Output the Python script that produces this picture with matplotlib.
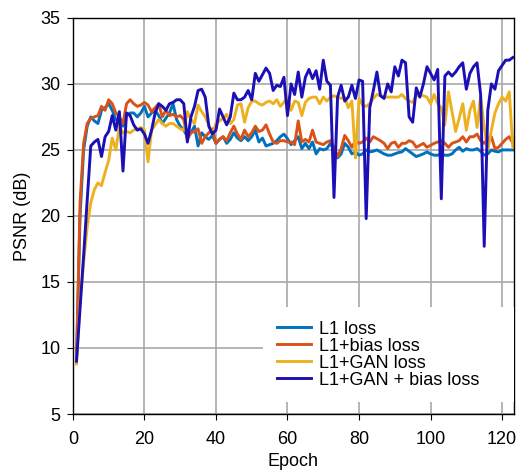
import numpy as np
import matplotlib
matplotlib.use("Agg")
from matplotlib import pyplot as plt

plt.rcParams["font.family"] = ["Liberation Sans", "DejaVu Sans"]

epochs = np.arange(1, 124)

l1 = [9.0, 20.0, 25.0, 26.8, 27.5, 27.2, 27.0, 28.0, 28.2, 28.5,
      28.0, 27.3, 27.0, 26.8, 27.6, 27.8, 27.8, 27.5, 27.8, 28.3,
      27.5, 27.8, 28.0, 27.6, 27.0, 27.4, 27.8, 28.5, 27.3, 26.8,
      26.5, 26.0, 26.3, 26.8, 25.3, 26.3, 26.0, 25.8, 26.1, 25.5,
      25.8, 26.0, 25.5, 25.8, 26.3, 25.9, 25.7, 26.0, 25.7, 26.0,
      26.5, 25.6, 25.9, 25.3, 25.4, 25.5, 25.7, 26.0, 26.2, 25.85,
      25.4, 25.7, 26.0, 25.1, 25.5, 25.1, 25.6, 24.7, 25.1, 25.0,
      25.1, 25.5, 25.0, 24.4, 24.7, 25.5, 25.2, 24.7, 24.85, 24.6,
      24.7, 25.0, 24.85, 24.9, 25.0, 24.85, 24.7, 24.6, 24.6, 24.7,
      24.8, 24.85, 25.1, 24.9, 24.7, 24.5, 24.6, 24.7, 24.85, 24.7,
      24.6, 24.6, 24.7, 24.6, 24.6, 24.7, 25.0, 25.2, 24.9, 25.1,
      25.0, 25.0, 25.1, 24.9, 24.6, 24.7, 25.0, 24.9, 24.85, 25.0,
      25.0, 25.0, 25.0]

l1_bias = [9.0, 21.0, 25.5, 27.0, 27.4, 27.5, 27.6, 28.3, 28.0, 28.8,
           28.5, 27.8, 27.5, 27.0, 28.5, 28.8, 28.5, 28.3, 28.4, 28.6,
           28.4, 27.9, 28.2, 28.5, 27.5, 28.0, 27.6, 27.7, 27.5, 27.6,
           27.3, 25.8, 26.3, 26.4, 26.6, 25.5, 26.0, 26.3, 26.6, 25.5,
           25.8, 26.0, 25.7, 26.3, 26.8, 26.2, 25.8, 26.5, 26.0, 26.3,
           26.8, 26.4, 26.5, 26.9, 26.2, 25.6, 25.5, 25.7, 25.7, 25.6,
           25.6, 25.4, 27.2, 25.6, 25.8, 25.6, 26.5, 25.6, 25.5, 25.4,
           25.6, 25.7, 25.2, 24.5, 25.1, 26.1, 25.7, 25.2, 25.7, 25.5,
           25.6, 25.9, 25.6, 26.0, 25.85, 25.7, 25.5, 25.1, 25.5, 25.6,
           25.2, 25.5, 25.5, 25.7, 25.6, 25.2, 25.35, 25.5, 25.2, 25.35,
           25.5, 25.6, 25.7, 25.5, 25.2, 25.5, 25.6, 25.7, 26.0, 25.6,
           26.0, 26.0, 26.2, 25.7, 25.5, 25.85, 26.0, 25.1, 25.2, 25.5,
           25.8, 26.0, 25.5]

l1_gan = [8.8, 13.5, 16.5, 19.2, 21.0, 22.0, 22.5, 22.3, 23.3, 24.2,
          25.9, 25.0, 26.8, 26.3, 26.4, 26.3, 26.5, 26.6, 26.7, 26.5,
          24.1, 26.5, 26.9, 27.3, 27.0, 26.8, 27.0, 27.0, 26.8, 26.6,
          26.5, 27.9, 27.3, 27.0, 28.4, 27.9, 27.5, 26.9, 26.2, 27.0,
          27.2, 27.4, 27.7, 27.0, 27.3, 28.4, 28.5, 27.1, 28.2, 28.7,
          28.7, 28.5, 28.4, 28.6, 28.7, 28.5, 28.8, 28.3, 28.6, 29.0,
          28.0, 28.7, 28.6, 27.6, 28.6, 28.9, 29.0, 29.0, 28.5, 29.0,
          28.7, 29.0, 29.1, 29.0, 28.9, 29.0, 28.2, 28.7, 24.4, 28.9,
          28.4, 28.3, 28.5, 28.9, 29.2, 29.1, 29.0, 29.0, 29.0, 29.0,
          29.0, 29.2, 28.9, 28.7, 28.6, 29.1, 29.2, 29.1, 29.0, 28.5,
          29.2, 28.5, 28.2, 26.9, 29.4, 27.9, 26.4, 27.4, 28.5, 26.5,
          28.0, 28.7, 26.7, 29.0, 26.7, 25.0, 26.5, 27.8, 28.5, 29.0,
          28.7, 29.4, 25.2]

l1_gan_bias = [9.0, 13.0, 17.0, 21.2, 25.3, 25.6, 25.8, 24.5, 26.0, 26.4,
               27.6, 26.5, 27.9, 23.4, 27.8, 27.6, 26.9, 26.5, 26.6, 26.2,
               25.5, 26.5, 27.8, 28.5, 28.3, 28.0, 28.5, 28.6, 28.8, 28.8,
               28.5, 25.6, 27.5, 28.3, 29.5, 29.6, 29.0, 26.8, 26.2, 26.5,
               28.1, 27.5, 26.9, 27.5, 29.3, 28.8, 28.8, 29.0, 29.5, 28.8,
               30.8, 30.2, 30.7, 31.2, 30.8, 29.5, 29.9, 29.8, 30.5, 27.6,
               30.0, 29.2, 30.9, 29.0, 30.5, 31.1, 30.4, 31.0, 29.6, 31.8,
               30.2, 29.9, 21.4, 29.0, 29.9, 28.7, 29.0, 29.9, 28.9, 30.3,
               30.2, 19.8, 28.2, 29.5, 30.9, 29.1, 28.9, 30.0, 29.4, 31.3,
               30.6, 31.8, 31.6, 27.5, 27.1, 29.7, 29.0, 30.0, 31.3, 30.8,
               30.3, 31.1, 21.3, 30.6, 30.9, 30.6, 30.9, 31.3, 31.6, 29.6,
               30.8, 31.3, 31.6, 29.2, 17.7, 28.0, 30.0, 29.6, 31.0, 31.4,
               31.8, 31.8, 32.0]

labels = ["L1 loss", "L1+bias loss", "L1+GAN loss", "L1+GAN + bias loss"]
colors = ["#0072BD", "#D95319", "#EDB120", "#1B10B5"]

fig = plt.figure(figsize=(5.17, 4.71), dpi=100)
ax = fig.add_axes([0.141, 0.121, 0.853, 0.841])

for ys, lab, c in zip([l1, l1_bias, l1_gan, l1_gan_bias], labels, colors):
    ax.plot(epochs, ys, color=c, lw=2.1, label=lab)

ax.set_xlim(0, 123.3)
ax.set_ylim(5, 35)
ax.set_xticks(range(0, 121, 20))
ax.set_yticks(range(5, 36, 5))
ax.grid(True, color="#a8a8a8", lw=1.2)
ax.set_axisbelow(True)
ax.tick_params(direction="out", labelsize=13, length=4, top=False, right=False)
ax.tick_params(axis="x", pad=8)
ax.tick_params(axis="y", pad=5)
for s in ax.spines.values():
    s.set_color("black")
    s.set_linewidth(1.0)
ax.set_xlabel("Epoch", fontsize=13, labelpad=4)
ax.set_ylabel("PSNR (dB)", fontsize=13, labelpad=7)

# legend box stretched to the right spine, white, no edge
leg = ax.legend(loc="lower left", bbox_to_anchor=(0.431, 0.03, 0.569, 0.22),
                mode="expand", fontsize=13,
                frameon=True, fancybox=False, framealpha=1, edgecolor="none",
                facecolor="white", handlelength=1.9, handletextpad=0.45,
                labelspacing=0.0, borderaxespad=0, borderpad=0.75)

fig.savefig("out.png", dpi=100)
